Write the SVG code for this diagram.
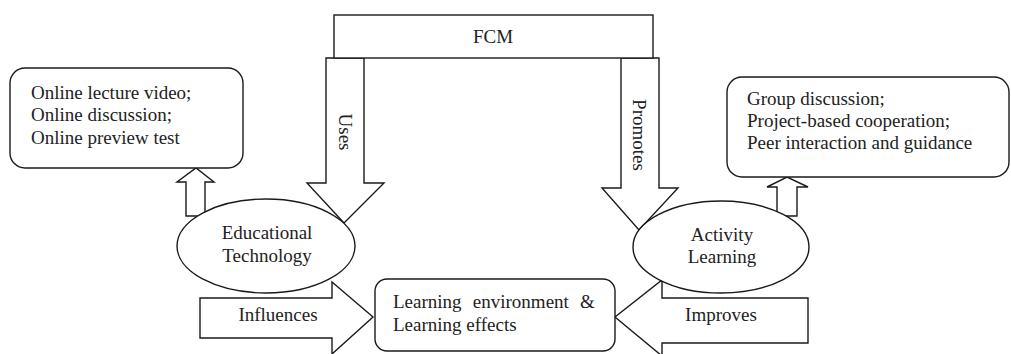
<svg xmlns="http://www.w3.org/2000/svg" width="1011" height="354" viewBox="0 0 1011 354">
<style>
.s{fill:#fff;stroke:#1a1a1a;stroke-width:1.4;stroke-linejoin:miter}
.t{font-family:"Liberation Serif","Times New Roman",serif;font-size:19px;fill:#222}
.c{text-anchor:middle}
</style>
<rect width="1011" height="354" fill="#fff"/>
<g id="connectors">
<polygon class="s" points="326,58 364,58 364,183 384,183 344,223 307,183 326,183"/>
<polygon class="s" points="621,58 659,58 659,188 678,188 639,230 602,188 621,188"/>
<polygon class="s" points="186,216 205,216 205,182 214,182 196,168 177,182 186,182"/>
<polygon class="s" points="777,216 797,216 797,187 808,187 787,177 767,187 777,187"/>
<polygon class="s" points="200,298 332,298 332,282 373,317 332,354 332,338 200,338"/>
<polygon class="s" points="808,298 662,298 662,280 615,317 662,356 662,343 808,343"/>
<text class="t c" transform="translate(343,132) rotate(90)" y="4">Uses</text>
<text class="t c" transform="translate(637,135) rotate(90)" y="4">Promotes</text>
<text class="t c" x="278" y="321">Influences</text>
<text class="t c" x="721" y="321">Improves</text>
</g>
<g id="fcm">
<rect class="s" x="334" y="15" width="319" height="43"/>
<text class="t c" x="493" y="43">FCM</text>
</g>
<g id="online-box">
<rect class="s" x="10" y="68" width="233" height="100" rx="15"/>
<text class="t" x="31" y="99">Online lecture video;</text>
<text class="t" x="31" y="121">Online discussion;</text>
<text class="t" x="31" y="144">Online preview test</text>
</g>
<g id="group-box">
<rect class="s" x="727" y="77" width="282" height="100" rx="15"/>
<text class="t" x="747" y="105">Group discussion;</text>
<text class="t" x="747" y="127">Project-based cooperation;</text>
<text class="t" x="747" y="149">Peer interaction and guidance</text>
</g>
<g id="edu-tech">
<ellipse class="s" cx="266" cy="246" rx="89" ry="47"/>
<text class="t c" x="267" y="239">Educational</text>
<text class="t c" x="267" y="262">Technology</text>
</g>
<g id="activity">
<ellipse class="s" cx="721" cy="247" rx="88" ry="46"/>
<text class="t c" x="722" y="241">Activity</text>
<text class="t c" x="722" y="263">Learning</text>
</g>
<g id="learning-env">
<rect class="s" x="375" y="279" width="240" height="72" rx="12"/>
<text class="t" x="393" y="308" word-spacing="6.5">Learning environment &amp;</text>
<text class="t" x="393" y="331">Learning effects</text>
</g>
</svg>
